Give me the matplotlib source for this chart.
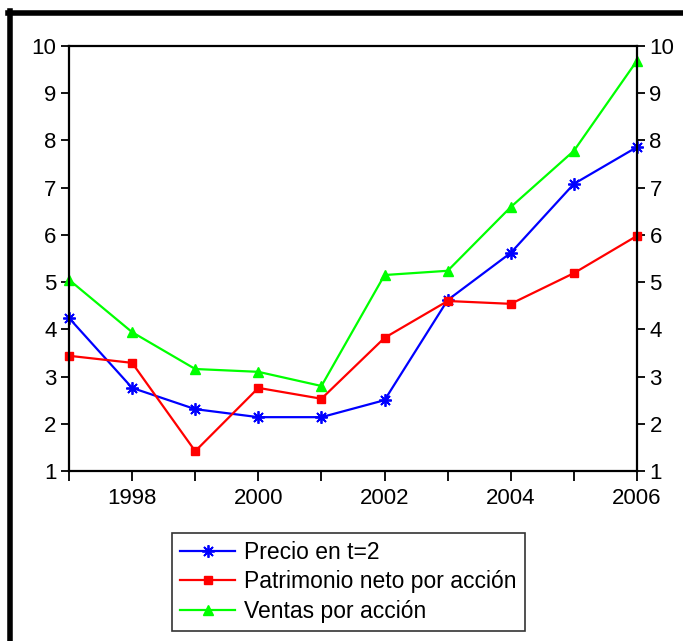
import matplotlib.pyplot as plt
from matplotlib.lines import Line2D

plt.rcParams['font.family'] = ['Liberation Sans', 'DejaVu Sans']

# Data
years = [1997, 1998, 1999, 2000, 2001, 2002, 2003, 2004, 2005, 2006]
precio = [4.24, 2.76, 2.31, 2.14, 2.14, 2.50, 4.62, 5.62, 7.08, 7.86]
patrimonio = [3.44, 3.29, 1.42, 2.76, 2.53, 3.82, 4.60, 4.54, 5.19, 5.98]
ventas = [5.05, 3.94, 3.16, 3.10, 2.80, 5.15, 5.24, 6.59, 7.78, 9.69]
labels = ["Precio en t=2", "Patrimonio neto por acción", "Ventas por acción"]

W, H = 683, 641
fig = plt.figure(figsize=(W / 100, H / 100), dpi=100)

# axes box in pixels: left 69, right 637, top 46, bottom 471
ax = fig.add_axes([69 / W, 1 - 471 / H, (637 - 69) / W, (471 - 46) / H])

star = (8, 2, 0)  # asterisk marker
ax.plot(years, precio, color='#0000ff', lw=1.6, marker=star, ms=9, mew=1.3, clip_on=False)
ax.plot(years, patrimonio, color='#ff0000', lw=1.6, marker='s', ms=5.5, clip_on=False)
ax.plot(years, ventas, color='#00ff00', lw=1.6, marker='^', ms=7.5, clip_on=False)

ax.set_xlim(1997, 2006)
ax.set_ylim(1, 10)
ax.set_yticks(range(1, 11))
ax.set_xticks(range(1997, 2007))
ax.set_xticklabels([str(y) if y % 2 == 0 else '' for y in years])
ax.tick_params(axis='y', direction='out', length=6, width=1.3, labelsize=16,
               left=True, right=True, labelleft=True, labelright=True, pad=3)
ax.tick_params(axis='x', direction='out', length=7.5, width=1.3, labelsize=16, pad=4.5)
for s in ax.spines.values():
    s.set_linewidth(1.6)

handles = [Line2D([], [], color='#0000ff', lw=1.6, marker=star, ms=9, mew=1.3),
           Line2D([], [], color='#ff0000', lw=1.6, marker='s', ms=5.5),
           Line2D([], [], color='#00ff00', lw=1.6, marker='^', ms=7.5)]
leg = fig.legend(handles, labels, loc='upper left',
                 bbox_to_anchor=(172 / W, 1 - 533 / H), fontsize=16.5,
                 frameon=True, fancybox=False, handlelength=2.4,
                 handletextpad=0.4, labelspacing=0.28, borderpad=0.35,
                 borderaxespad=0)
leg.get_frame().set_edgecolor('black')
leg.get_frame().set_linewidth(1.2)

# thick black border on the top and left of the picture
fig.add_artist(Line2D([8 / W, 1], [1 - 13 / H, 1 - 13 / H], color='black', lw=4))
fig.add_artist(Line2D([10 / W, 10 / W], [0, 1 - 11 / H], color='black', lw=4))

fig.savefig('out.png', dpi=100)
